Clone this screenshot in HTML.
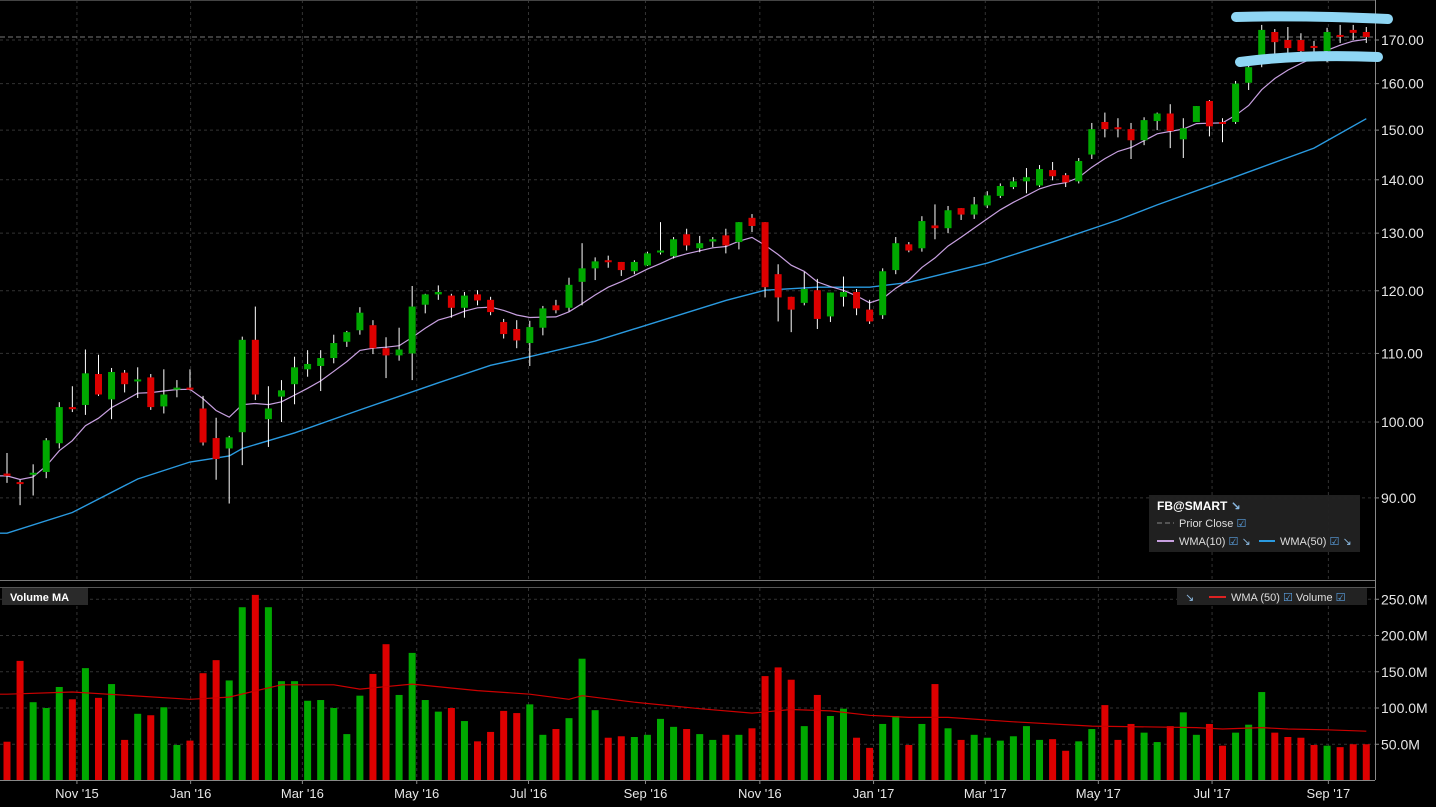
<!DOCTYPE html>
<html><head><meta charset="utf-8"><style>
html,body{margin:0;padding:0;background:#000;}
svg{display:block;font-family:"Liberation Sans","DejaVu Sans",sans-serif;}
</style></head><body>
<svg id="chart" width="1436" height="807" viewBox="0 0 1436 807">
<rect x="0" y="0" width="1436" height="807" fill="#000"/>
<g id="grid"></g>
<g id="price"></g>
<g id="vol"></g>
<g id="axes"></g>
<path d="M1236,17 Q1300,15 1388,19" stroke="#8fd6f4" stroke-width="10" fill="none" stroke-linecap="round"/>
<path d="M1240,62 Q1300,54 1378,57" stroke="#8fd6f4" stroke-width="10" fill="none" stroke-linecap="round"/>
<g>
<rect x="1149" y="495" width="211" height="57" fill="#222" opacity="0.95"/>
<text x="1157" y="510" fill="#fff" font-size="12" font-weight="bold">FB@SMART <tspan fill="#8ab8e0">↘</tspan></text>
<line x1="1157" y1="523" x2="1174" y2="523" stroke="#888" stroke-dasharray="5,3"/>
<text x="1179" y="527" fill="#ddd" font-size="11">Prior Close <tspan fill="#5aa0e0">☑</tspan></text>
<line x1="1157" y1="541" x2="1174" y2="541" stroke="#c8a0e0" stroke-width="2"/>
<text x="1179" y="545" fill="#ddd" font-size="11">WMA(10) <tspan fill="#5aa0e0">☑</tspan> <tspan fill="#8ab8e0">↘</tspan></text>
<line x1="1259" y1="541" x2="1275" y2="541" stroke="#2a9ae0" stroke-width="2"/>
<text x="1280" y="545" fill="#ddd" font-size="11">WMA(50) <tspan fill="#5aa0e0">☑</tspan> <tspan fill="#8ab8e0">↘</tspan></text>
</g>
<g>
<rect x="2" y="588" width="86" height="17" fill="#2a2a2a"/>
<text x="10" y="601" fill="#fff" font-size="11" font-weight="bold">Volume MA</text>
</g>
<g>
<rect x="1177" y="588" width="190" height="17" fill="#222"/>
<text x="1185" y="601" fill="#8ab8e0" font-size="11">↘</text>
<line x1="1209" y1="597" x2="1226" y2="597" stroke="#d22" stroke-width="2"/>
<text x="1231" y="601" fill="#ddd" font-size="11">WMA (50) <tspan fill="#5aa0e0">☑</tspan> Volume <tspan fill="#5aa0e0">☑</tspan></text>
</g>
</svg>
<script>
const opens=[93.1,92.0,93.0,93.3,97.1,102.1,102.4,106.9,103.2,107.1,105.8,106.4,102.2,104.6,104.9,101.9,97.8,96.4,98.6,112.1,100.4,103.6,105.4,107.6,108.1,109.3,111.8,113.6,114.4,110.8,109.7,110.0,117.7,119.4,119.2,117.2,119.4,118.5,114.9,113.8,111.6,114.0,117.6,117.2,121.5,123.8,125.2,124.9,123.3,124.3,126.6,125.9,129.8,127.3,128.5,129.6,128.4,132.8,132.0,122.8,119.0,118.0,120.1,115.8,119.0,119.8,116.9,116.0,123.5,128.0,127.3,131.4,130.9,134.6,133.4,135.1,136.9,138.6,139.7,138.9,141.9,140.9,139.7,145.0,151.7,150.6,150.2,147.9,151.9,153.5,148.1,151.7,156.2,151.7,151.7,160.2,166.3,171.9,170.0,170.0,168.6,167.4,171.2,172.4,171.9];
const highs=[95.8,92.3,94.3,97.8,102.8,105.1,110.6,109.8,107.8,107.5,107.9,106.9,107.6,106.0,107.6,103.7,100.6,98.1,112.6,117.4,105.1,106.0,109.5,110.5,110.5,112.9,113.5,117.3,115.2,112.5,114.0,120.8,119.5,120.9,119.5,119.8,120.1,119.0,115.4,115.2,115.1,117.5,118.5,122.2,128.2,125.7,126.0,124.9,125.2,126.7,132.0,129.3,130.8,129.5,129.3,130.8,132.0,133.5,132.0,124.5,119.0,123.2,122.0,119.7,122.4,120.3,118.5,123.8,129.3,128.4,133.1,135.3,135.0,134.6,136.7,137.8,139.3,140.5,142.3,142.9,143.5,141.3,144.3,151.5,153.7,152.5,151.5,152.7,153.7,155.5,152.5,155.1,156.4,152.5,160.6,165.3,173.6,172.6,173.1,171.6,169.8,172.9,173.6,173.6,173.1];
const lows=[91.9,89.1,90.3,92.5,96.4,101.4,101.0,103.7,100.4,104.2,103.4,101.7,101.2,103.5,104.5,96.8,92.3,89.3,94.2,103.1,96.6,100.0,102.5,106.5,104.4,108.5,111.0,112.9,109.9,106.3,108.9,106.0,116.3,118.5,115.6,115.6,117.6,116.0,112.3,110.8,108.1,112.8,116.3,116.6,117.6,121.8,123.9,122.5,122.8,124.2,126.2,125.5,126.9,126.6,127.5,126.4,127.1,130.2,118.9,115.0,113.3,117.6,113.8,114.9,117.4,116.0,114.6,115.4,122.8,126.6,126.7,128.9,130.0,132.4,132.6,134.6,136.5,138.2,137.4,138.6,139.9,138.6,139.3,144.1,148.5,148.5,144.1,146.9,150.0,146.3,144.3,151.7,148.7,147.5,151.3,158.6,163.7,166.7,166.5,167.0,167.2,164.8,169.3,170.0,169.3];
const closes=[92.8,91.9,93.2,97.5,102.1,101.8,107.0,103.9,107.2,105.4,106.1,102.1,103.9,104.9,104.6,97.2,95.0,97.9,112.1,103.9,101.9,104.5,107.9,108.4,109.3,111.6,113.3,116.4,110.8,109.7,110.6,117.4,119.4,119.8,117.2,119.2,118.4,116.5,113.0,112.0,114.1,117.1,116.8,121.0,123.8,125.0,124.9,123.5,124.9,126.4,126.9,128.9,127.8,128.2,128.9,127.8,132.0,131.3,120.6,118.9,116.9,120.3,115.4,119.7,119.8,117.1,115.0,123.3,128.2,126.9,132.2,130.9,134.2,133.4,135.3,137.0,138.8,139.7,140.5,142.1,140.7,139.5,143.7,150.2,150.2,150.2,147.9,152.1,153.5,149.8,150.4,155.1,150.8,151.3,160.0,163.7,172.4,169.5,168.1,167.4,168.3,171.9,170.9,171.7,170.7];
const volumes=[53.5,165,108,100,129,112,155,114,133,56,92,90,101,49,55,148,166,138,239,256,239,137,137,110,111,100,64,117,147,188,118,176,111,95,100,82,54,67,96,93,105,63,71,86,168,97,59,61,60,63,85,74,71,64,56,63,63,72,144,156,139,75,118,89,99,59,45,78,89,49,78,133,72,56,63,59,55,61,75,56,57,41,54,71,104,56,78,66,53,75,94,63,78,48,66,77,122,66,60,59,49,48,46,50,50];
const wma50Idx=[0,5,10,14,17,18,22,27,33,37,40,45,50,55,58,62,66,69,75,80,85,88,94,100,104];
const wma50Vals=[85.7,88.2,92.4,94.6,95.4,96.4,98.5,101.7,105.6,108.2,109.5,111.9,115.1,118.4,120.1,120.6,120.6,121.4,124.7,128.4,132.4,135.2,140.6,146.3,152.4];
const volWmaIdx=[0,5,14,17,21,25,27,31,36,40,43,44,48,53,57,60,63,66,69,72,77,83,91,93,96,98,101,104];
const volWmaVals=[119,122,112,115,132,132,126,133,124,119,112,117,108,99,93,98,96,90,87,87,81,75,73,71,73,71,70,68];
const priceTicks=[170,160,150,140,130,120,110,100,90];
const volTicks=[250,200,150,100,50];
const monthLabels=["Nov '15","Jan '16","Mar '16","May '16","Jul '16","Sep '16","Nov '16","Jan '17","Mar '17","May '17","Jul '17","Sep '17"];
const monthIdx=[5.35,14.05,22.6,31.35,39.9,48.85,57.6,66.3,74.85,83.5,92.2,101.1];
const priorClose=170.7;

const NS="http://www.w3.org/2000/svg";
function X(i){return 7+i*13.07;}
function Y(p){return 40+(Math.log(170)-Math.log(p))*720;}
function VY(v){return 780.5-v*0.725;}
function mk(tag,attrs,parent){const e=document.createElementNS(NS,tag);for(const k in attrs)e.setAttribute(k,attrs[k]);parent.appendChild(e);return e;}
const grid=document.getElementById('grid'),price=document.getElementById('price'),vol=document.getElementById('vol'),axes=document.getElementById('axes');

// grid
priceTicks.forEach(t=>{const l=mk('line',{x1:0,x2:1375,y1:Y(t),y2:Y(t),stroke:'#333','stroke-dasharray':'3,3'},grid);


const tx=mk('text',{x:1381,y:Y(t)+5,fill:'#e6e6e6','font-size':14},axes);tx.textContent=t.toFixed(2);


mk('line',{x1:1375,x2:1379,y1:Y(t),y2:Y(t),stroke:'#888'},axes);});
volTicks.forEach(t=>{const l=mk('line',{x1:0,x2:1375,y1:VY(t),y2:VY(t),stroke:'#333','stroke-dasharray':'3,3'},grid);


const tx=mk('text',{x:1381,y:VY(t)+5,fill:'#e6e6e6','font-size':14},axes);tx.textContent=t.toFixed(1)+'M';


mk('line',{x1:1375,x2:1379,y1:VY(t),y2:VY(t),stroke:'#888'},axes);});
monthLabels.forEach((m,k)=>{const x=X(monthIdx[k]);
mk('line',{x1:x,x2:x,y1:0,y2:580,stroke:'#333','stroke-dasharray':'3,3'},grid);
mk('line',{x1:x,x2:x,y1:588,y2:780,stroke:'#333','stroke-dasharray':'3,3'},grid);
mk('line',{x1:x,x2:x,y1:780,y2:784,stroke:'#888'},axes);
const tx=mk('text',{x:x,y:798,fill:'#e6e6e6','font-size':13,'text-anchor':'middle'},axes);tx.textContent=m;

});
// prior close line
const pc=mk('line',{x1:0,x2:1375,y1:Y(priorClose),y2:Y(priorClose),stroke:'#777','stroke-dasharray':'5,3'},grid);


// frames
mk('line',{x1:0,x2:1375,y1:580.5,y2:580.5,stroke:'#777'},axes);
mk('line',{x1:0,x2:1375,y1:587.5,y2:587.5,stroke:'#555'},axes);
mk('line',{x1:0,x2:1375,y1:780.5,y2:780.5,stroke:'#888'},axes);
mk('line',{x1:1375.5,x2:1375.5,y1:0,y2:780,stroke:'#888'},axes);
mk('line',{x1:0,x2:1375,y1:0.5,y2:0.5,stroke:'#444'},axes);

// volume bars
volumes.forEach((v,i)=>{const up=closes[i]>=opens[i];
const r=mk('rect',{x:X(i)-3.5,y:VY(v),width:7,height:780.5-VY(v),fill:up?'#00a800':'#dd0000'},vol);

});
// volume wma
{let d=volWmaIdx.map((i,k)=>(k?'L':'M')+X(i).toFixed(1)+','+VY(volWmaVals[k]).toFixed(1)).join(' ');
d='M0,'+VY(volWmaVals[0]).toFixed(1)+' L'+d.slice(1);
const p=mk('path',{d:d,stroke:'#c00',fill:'none','stroke-width':1.2},vol);

}

// WMA lines
{let d='M0,'+Y(wma50Vals[0]).toFixed(1)+' '+wma50Idx.map((i,k)=>'L'+X(i).toFixed(1)+','+Y(wma50Vals[k]).toFixed(1)).join(' ');
const p=mk('path',{d:d,stroke:'#2a9ae0',fill:'none','stroke-width':1.4},price);

}
{const pts=closes.map((c,i)=>{let s=0,w=0;for(let k=0;k<10&&i-k>=0;k++){s+=closes[i-k]*(10-k);w+=(10-k);}return s/w;});
let d='M0,'+Y(pts[0]).toFixed(1)+' '+pts.map((v,i)=>'L'+X(i).toFixed(1)+','+Y(v).toFixed(1)).join(' ');
const p=mk('path',{d:d,stroke:'#c8a0e0',fill:'none','stroke-width':1.2},price);

}

// candles
opens.forEach((o,i)=>{const c=closes[i],up=c>=o,x=X(i);
const g=mk('g',{},price);


mk('line',{x1:x,x2:x,y1:Y(highs[i]),y2:Y(lows[i]),stroke:'#fff','stroke-width':1},g);
const t=Math.min(Y(o),Y(c)),b=Math.max(Y(o),Y(c));
mk('rect',{x:x-3.5,y:t,width:7,height:Math.max(2,b-t),fill:up?'#00a800':'#dd0000'},g);});
</script>
</body></html>
